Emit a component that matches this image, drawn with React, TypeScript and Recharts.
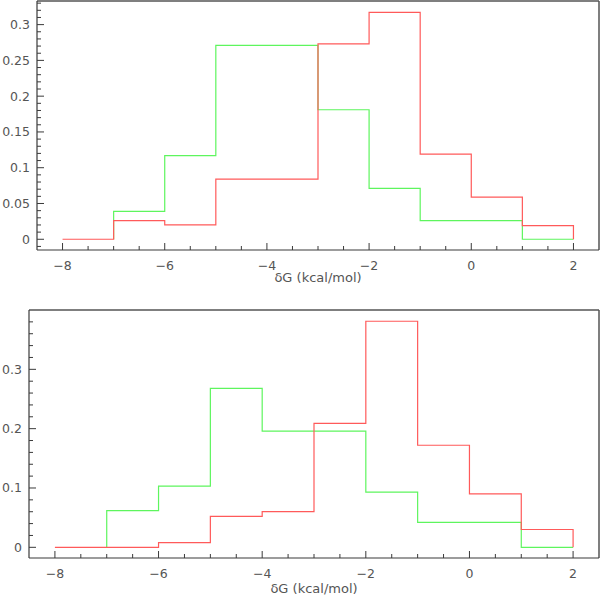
import React from 'react';
import { LineChart, Line, XAxis, YAxis, ReferenceLine } from 'recharts';

const binEdges = [-8, -7, -6, -5, -4, -3, -2, -1, 0, 1, 2];
const topRed = [0, 0.026, 0.02, 0.084, 0.084, 0.273, 0.317, 0.119, 0.059, 0.019];
const topGreen = [null, 0.039, 0.117, 0.271, 0.271, 0.181, 0.071, 0.026, 0.026, 0];
const bottomRed = [0, 0, 0.008, 0.052, 0.06, 0.209, 0.381, 0.172, 0.09, 0.03];
const bottomGreen = [null, 0.062, 0.103, 0.268, 0.196, 0.196, 0.093, 0.042, 0.042, 0];

const xMajorTicks = [-8, -6, -4, -2, 0, 2];
const topYMajorTicks = [0, 0.05, 0.1, 0.15, 0.2, 0.25, 0.3];
const bottomYMajorTicks = [0, 0.1, 0.2, 0.3];
const xLabel = 'δG (kcal/mol)';

const RED = '#ff5a5a';
const GREEN = '#5ef55e';
const AXIS = '#3a3a3a';
const TEXT = '#555';
const FONT = 'DejaVu Sans';
const X_DOMAIN: [number, number] = [-8.5, 2.5];

function stepPoints(values: (number | null)[]) {
  const pts: { x: number; y: number }[] = [];
  let started = false;
  values.forEach((v, i) => {
    if (v === null) return;
    if (!started) {
      pts.push({ x: binEdges[i], y: 0 });
      started = true;
    }
    pts.push({ x: binEdges[i], y: v });
  });
  pts.push({ x: binEdges[binEdges.length - 1], y: 0 });
  return pts;
}

function rangeTicks(start: number, stop: number, step: number) {
  const out: number[] = [];
  const n = Math.round((stop - start) / step);
  for (let k = 0; k <= n; k++) out.push(Math.round((start + k * step) * 10000) / 10000);
  return out;
}

const isIn = (arr: number[], v: number) => arr.some((m) => Math.abs(m - v) < 1e-6);
const fmtX = (v: number) => (v < 0 ? '\u2212' + String(-v) : String(v));
const fmtY = (v: number) => String(Number(v.toFixed(2)));

const makeXTick = (majors: number[]) => (props: any) => {
  const { x, y, payload } = props;
  const v = payload.value;
  const major = isIn(majors, v);
  return (
    <g>
      <line x1={x} x2={x} y1={y} y2={y - (major ? 7 : 4)} stroke={AXIS} strokeWidth={1} />
      {major && (
        <text x={x} y={y + 20} textAnchor="middle" fill={TEXT} fontFamily={FONT} fontSize={12.5}>
          {fmtX(v)}
        </text>
      )}
    </g>
  );
};

const makeYTick = (majors: number[]) => (props: any) => {
  const { x, y, payload } = props;
  const v = payload.value;
  const major = isIn(majors, v);
  return (
    <g>
      <line x1={x} x2={x + (major ? 7 : 4)} y1={y} y2={y} stroke={AXIS} strokeWidth={1} />
      {major && (
        <text x={x - 7} y={y + 4.5} textAnchor="end" fill={TEXT} fontFamily={FONT} fontSize={12.5}>
          {fmtY(v)}
        </text>
      )}
    </g>
  );
};

type PanelProps = {
  red: (number | null)[];
  green: (number | null)[];
  yDomain: [number, number];
  yTicks: number[];
  yMajors: number[];
  height: number;
  marginTop: number;
  yAxisWidth: number;
  xAxisHeight: number;
  labelOffset: number;
};

function Panel(p: PanelProps) {
  const xTicks = rangeTicks(-8, 2, 0.5);
  return (
    <LineChart width={600} height={p.height} margin={{ top: p.marginTop, right: 1, left: 0, bottom: 0 }}>
      <XAxis
        type="number"
        dataKey="x"
        domain={X_DOMAIN}
        allowDataOverflow
        ticks={xTicks}
        interval={0}
        tickSize={0}
        tickMargin={0}
        tickLine={false}
        tick={makeXTick(xMajorTicks)}
        axisLine={{ stroke: AXIS, strokeWidth: 1.2 }}
        height={p.xAxisHeight}
        label={{ value: xLabel, position: 'insideBottom', offset: p.labelOffset, fill: TEXT, fontFamily: FONT, fontSize: 13 }}
      />
      <YAxis
        type="number"
        domain={p.yDomain}
        allowDataOverflow
        ticks={p.yTicks}
        interval={0}
        tickSize={0}
        tickMargin={0}
        tickLine={false}
        tick={makeYTick(p.yMajors)}
        axisLine={{ stroke: AXIS, strokeWidth: 1.2 }}
        width={p.yAxisWidth}
      />
      <ReferenceLine y={p.yDomain[1]} stroke="#555" strokeWidth={1.5} ifOverflow="visible" />
      <ReferenceLine x={X_DOMAIN[1]} stroke="#555" strokeWidth={1.5} ifOverflow="visible" />
      <Line
        data={stepPoints(p.green)}
        dataKey="y"
        type="stepAfter"
        stroke={GREEN}
        strokeWidth={1.2}
        dot={false}
        activeDot={false}
        isAnimationActive={false}
      />
      <Line
        data={stepPoints(p.red)}
        dataKey="y"
        type="stepAfter"
        stroke={RED}
        strokeWidth={1.2}
        dot={false}
        activeDot={false}
        isAnimationActive={false}
      />
    </LineChart>
  );
}

export default function App() {
  return (
    <div style={{ position: 'absolute', left: 0, top: 0, width: 600, height: 601, background: '#fff' }}>
      <Panel
        red={topRed}
        green={topGreen}
        yDomain={[-0.015, 0.333]}
        yTicks={rangeTicks(-0.01, 0.33, 0.01)}
        yMajors={topYMajorTicks}
        height={300}
        marginTop={1}
        yAxisWidth={37}
        xAxisHeight={50}
        labelOffset={18}
      />
      <Panel
        red={bottomRed}
        green={bottomGreen}
        yDomain={[-0.018, 0.4]}
        yTicks={rangeTicks(0, 0.38, 0.02)}
        yMajors={bottomYMajorTicks}
        height={301}
        marginTop={10}
        yAxisWidth={29}
        xAxisHeight={43}
        labelOffset={8}
      />
    </div>
  );
}
